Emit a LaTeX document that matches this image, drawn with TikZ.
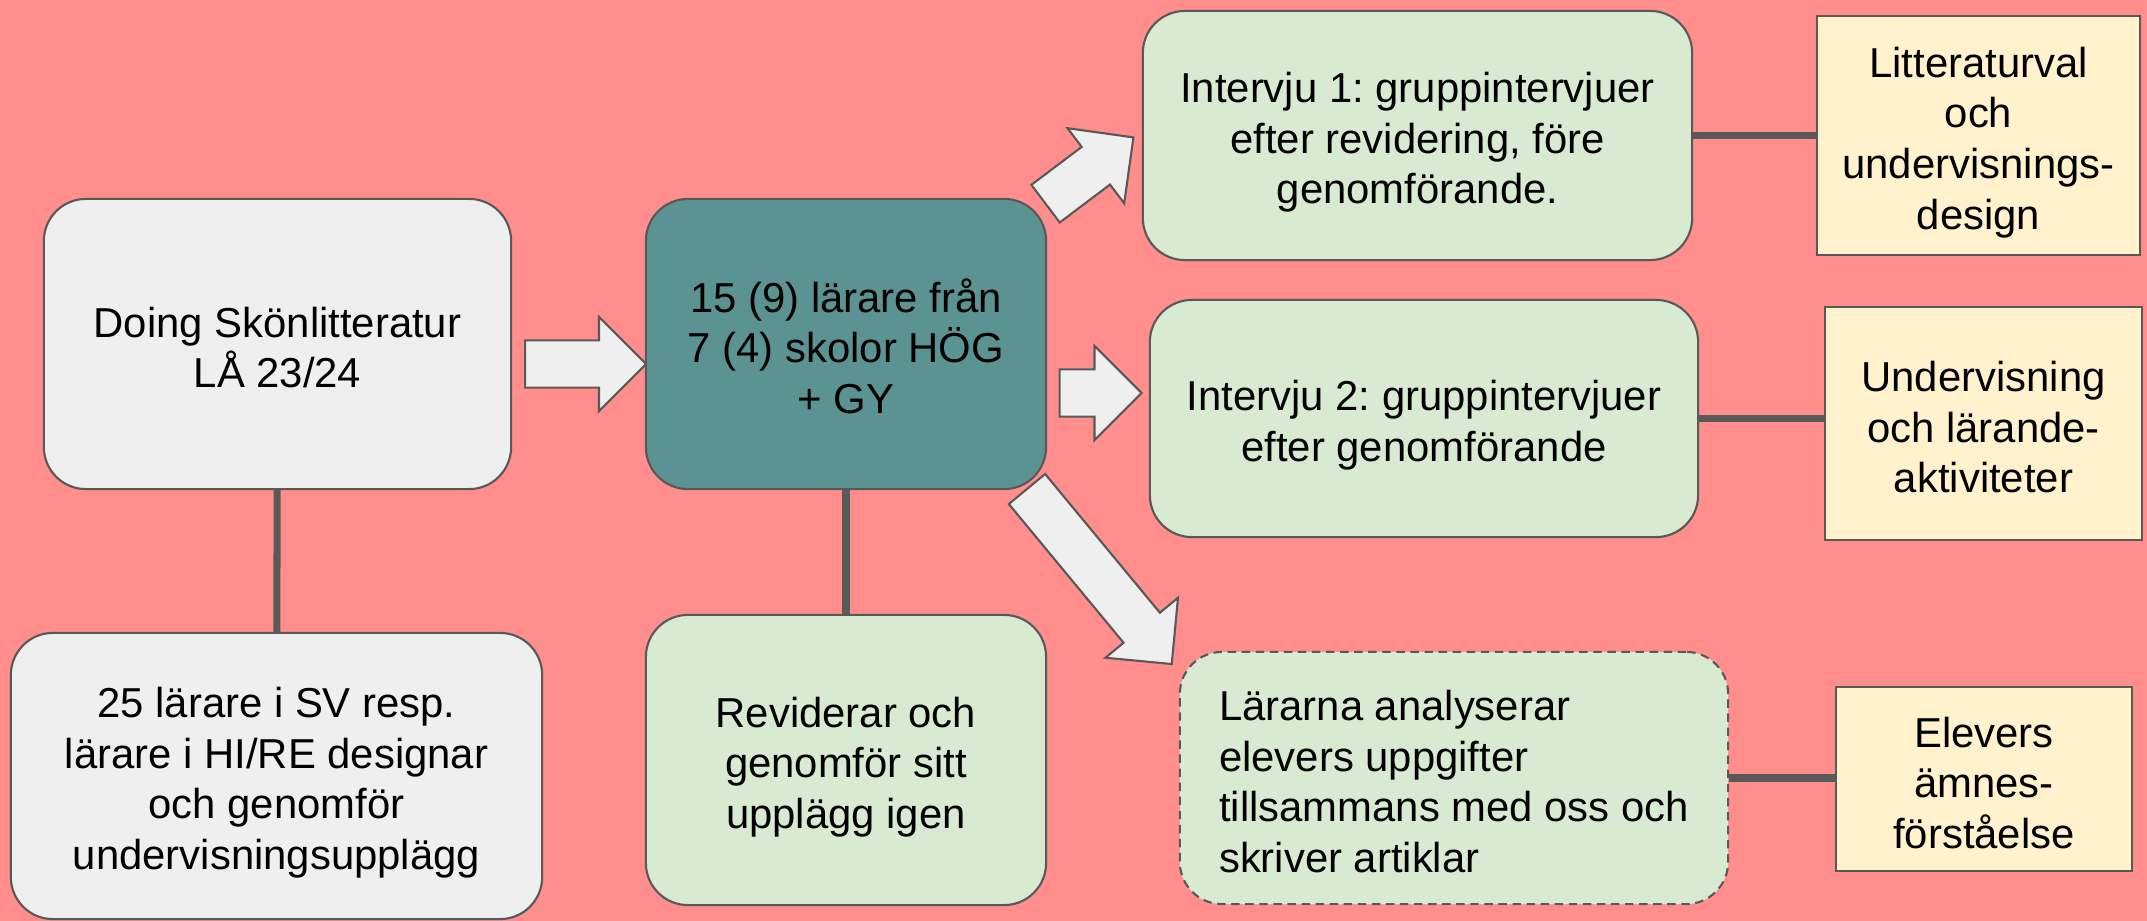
\documentclass[tikz,border=0pt]{standalone}
\usepackage{fontspec}
\setmainfont{Liberation Sans}
\usetikzlibrary{shapes.arrows}
\definecolor{bgred}{HTML}{FF8E8C}
\definecolor{boxgrey}{HTML}{EFEFEF}
\definecolor{hubteal}{HTML}{5A9391}
\definecolor{palegreen}{HTML}{D9EAD3}
\definecolor{paleyellow}{HTML}{FFF2CC}
\definecolor{edgegrey}{HTML}{595959}
\newcommand{\upstrut}{\rule{0pt}{12.5pt}}
\newcommand{\downstrut}{\rule[-1.9pt]{0pt}{1.9pt}}
\begin{document}
\begin{tikzpicture}[x=0.01cm, y=-0.01cm,
    box/.style={draw=edgegrey, line width=0.6pt, rounded corners=0.42cm, align=center, inner sep=0pt,
      font=\fontsize{11.9}{14.4}\selectfont\frenchspacing},
    greybox/.style={box, fill=boxgrey},
    greenbox/.style={box, fill=palegreen},
    aspect/.style={box, rounded corners=0pt, fill=paleyellow},
    fatarrow/.style={single arrow, anchor=tail, draw=edgegrey, fill=boxgrey, line width=0.6pt, inner xsep=0pt, inner ysep=0.225cm, single arrow head extend=0.235cm},
    link/.style={draw=edgegrey, line width=2pt}]
    \fill[bgred] (0,0) rectangle (2147,921);
    \useasboundingbox (0,0) rectangle (2147,921);

    \node[greybox, minimum width=4.67cm, minimum height=2.9cm] (doing) at (277.5,344) {\upstrut Doing Skönlitteratur\\LÅ 23/24\downstrut};
    \node[greybox, minimum width=5.31cm, minimum height=2.86cm] (lararsv) at (276.5,776) {\upstrut 25 lärare i SV resp.\\lärare i HI/RE designar\\och genomför\\undervisningsupplägg\downstrut};

    \node[box, fill=hubteal, minimum width=4cm, minimum height=2.9cm] (hub) at (846,344) {\upstrut 15 (9) lärare från\\7 (4) skolor HÖG\\+ GY\downstrut};
    \node[greenbox, minimum width=4cm, minimum height=2.9cm] (revid) at (846,760) {\upstrut Reviderar och\\genomför sitt\\upplägg igen\downstrut};

    \node[greenbox, minimum width=5.49cm, minimum height=2.49cm] (int1) at (1417.5,135.5) {\upstrut Intervju 1: gruppintervjuer\\efter revidering, före\\genomförande.\downstrut};
    \node[greenbox, minimum width=5.48cm, minimum height=2.37cm] (int2) at (1424,418.5) {\upstrut Intervju 2: gruppintervjuer\\efter genomförande\downstrut};
    \node[greenbox, dash pattern=on 2.4pt off 1.6pt, align=left, minimum width=5.48cm, minimum height=2.52cm] (analys) at (1454,778) {\upstrut Lärarna analyserar\\elevers uppgifter\\tillsammans med oss och\\skriver artiklar\downstrut};

    \node[aspect, minimum width=3.23cm, minimum height=2.39cm] (litt) at (1978.5,135.5) {\upstrut Litteraturval\\och\\undervisnings-\\design\downstrut};
    \node[aspect, minimum width=3.17cm, minimum height=2.33cm] (underv) at (1983.5,423.5) {\upstrut Undervisning\\och lärande-\\aktiviteter\downstrut};
    \node[aspect, minimum width=2.96cm, minimum height=1.84cm] (elev) at (1984,779) {\upstrut Elevers\\ämnes-\\förståelse\downstrut};

    \node[fatarrow, minimum height=1.21cm] (arrhub) at (524,364) {};
    \node[fatarrow, minimum height=0.82cm] (arrint2) at (1058.5,393) {};
    \node[fatarrow, minimum height=1.10cm, rotate=37] (arrint1) at (1044.7,204.3) {};
    \node[fatarrow, minimum height=2.27cm, rotate=-50.4] (arranalys) at (1026.3,488.2) {};

    \draw[link] (doing) -- (lararsv);
    \draw[link] (hub) -- (revid);
    \draw[link] (int1) -- (litt);
    \draw[link] (int2.east) -- (int2.east -| underv.west);
    \draw[link] (analys.east) -- (analys.east -| elev.west);
\end{tikzpicture}
\end{document}
